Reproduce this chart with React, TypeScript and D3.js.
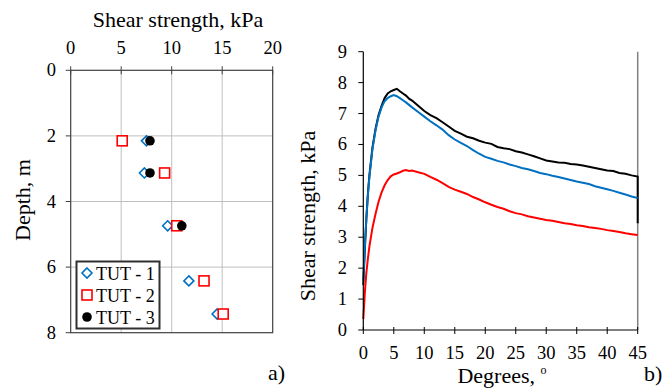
import React from "react";
import * as d3 from "d3";

// a) field vane profile
const seriesNames = ["TUT - 1", "TUT - 2", "TUT - 3"];
const depthTut1 = [2.15, 3.13, 4.74, 6.42, 7.43];
const strengthTut1 = [7.5, 7.3, 9.6, 11.7, 14.5];
const depthTut2 = [2.15, 3.13, 4.74, 6.42, 7.43];
const strengthTut2 = [5.1, 9.3, 10.5, 13.2, 15.1];
const depthTut3 = [2.15, 3.13, 4.74];
const strengthTut3 = [7.85, 7.85, 11.0];
const strengthTicks = [0, 5, 10, 15, 20];
const depthTicks = [0, 2, 4, 6, 8];

// b) shear strength vs rotation
const degrees = [
  0, 0.25, 0.5, 0.75, 1, 1.5, 2, 2.5, 3, 3.5, 4, 4.5, 5, 5.5, 6, 6.5, 7, 7.5, 8,
  9, 10, 11, 12, 13, 14, 15, 16, 17, 18, 19, 20, 21, 22, 23, 24, 25, 26, 27, 28,
  29, 30, 31, 32, 33, 34, 35, 36, 37, 38, 39, 40, 41, 42, 43, 44, 45,
];
const curveTut1 = [
  1.6, 2.7, 3.6, 4.35, 4.95, 5.85, 6.45, 6.9, 7.2, 7.4, 7.5, 7.56, 7.6, 7.56,
  7.5, 7.43, 7.36, 7.28, 7.2, 7.05, 6.9, 6.75, 6.62, 6.48, 6.3, 6.16, 6.05, 5.95,
  5.82, 5.7, 5.6, 5.54, 5.47, 5.42, 5.35, 5.3, 5.24, 5.2, 5.14, 5.08, 5.04, 4.99,
  4.95, 4.9, 4.85, 4.8, 4.76, 4.72, 4.65, 4.6, 4.55, 4.5, 4.44, 4.38, 4.32, 4.27,
];
const curveTut2 = [
  0.35, 1.2, 1.85, 2.3, 2.7, 3.3, 3.75, 4.15, 4.45, 4.68, 4.85, 4.97, 5.03, 5.06,
  5.1, 5.15, 5.17, 5.14, 5.16, 5.1, 5.05, 4.95, 4.86, 4.75, 4.63, 4.54, 4.47, 4.4,
  4.3, 4.22, 4.13, 4.05, 3.98, 3.92, 3.84, 3.78, 3.74, 3.68, 3.64, 3.6, 3.56, 3.53,
  3.49, 3.45, 3.43, 3.39, 3.36, 3.32, 3.3, 3.27, 3.23, 3.2, 3.17, 3.13, 3.1, 3.07,
];
const curveTut3 = [
  1.45, 2.6, 3.6, 4.4, 5.0, 5.9, 6.5, 6.95, 7.25, 7.5, 7.65, 7.72, 7.76, 7.8,
  7.72, 7.65, 7.58, 7.48, 7.42, 7.25, 7.08, 6.95, 6.85, 6.72, 6.58, 6.44, 6.35,
  6.25, 6.2, 6.12, 6.06, 6.02, 5.92, 5.88, 5.85, 5.78, 5.74, 5.68, 5.62, 5.55,
  5.48, 5.45, 5.42, 5.41, 5.37, 5.35, 5.32, 5.28, 5.24, 5.2, 5.16, 5.14, 5.08,
  5.05, 5.0, 4.96,
];
const tut3EndValue = 3.45;
const degreeTicks = [0, 5, 10, 15, 20, 25, 30, 35, 40, 45];
const shearTicks = [0, 1, 2, 3, 4, 5, 6, 7, 8, 9];

const FONT = "'Liberation Serif', 'Times New Roman', serif";
const BLUE = "#0070C0";
const RED = "#FF0000";

function Diamond({ x, y }: { x: number; y: number }) {
  const r = 5;
  return (
    <path
      d={`M${x},${y - r}L${x + r},${y}L${x},${y + r}L${x - r},${y}Z`}
      fill="white"
      stroke={BLUE}
      strokeWidth={1.6}
    />
  );
}

function Square({ x, y }: { x: number; y: number }) {
  const s = 10;
  return (
    <rect x={x - s / 2} y={y - s / 2} width={s} height={s} fill="white" stroke={RED} strokeWidth={1.6} />
  );
}

function Dot({ x, y }: { x: number; y: number }) {
  return <circle cx={x} cy={y} r={4.8} fill="black" />;
}

function ProfileChart() {
  const x = d3.scaleLinear().domain([0, 20]).range([70.7, 272.7]);
  const y = d3.scaleLinear().domain([0, 8]).range([70.3, 332.7]);
  const [x0, x1] = x.range();
  const [y0, y1] = y.range();
  const legendRows = [
    { name: seriesNames[0], Mark: Diamond },
    { name: seriesNames[1], Mark: Square },
    { name: seriesNames[2], Mark: Dot },
  ];
  return (
    <g fontFamily={FONT}>
      {strengthTicks.slice(1, -1).map((t) => (
        <line key={"gx" + t} x1={x(t)} x2={x(t)} y1={y0} y2={y1} stroke="#BFBFBF" />
      ))}
      {depthTicks.slice(1, -1).map((t) => (
        <line key={"gy" + t} x1={x0} x2={x1} y1={y(t)} y2={y(t)} stroke="#BFBFBF" />
      ))}
      <rect x={x0} y={y0} width={x1 - x0} height={y1 - y0} fill="none" stroke="#404040" strokeWidth={1.2} />
      {strengthTicks.map((t) => (
        <g key={"tx" + t}>
          <line x1={x(t)} x2={x(t)} y1={y0 - 4} y2={y0 + 4} stroke="#404040" />
          <text x={x(t)} y={53.5} textAnchor="middle" fontSize={18.5}>
            {t}
          </text>
        </g>
      ))}
      {depthTicks.map((t) => (
        <g key={"ty" + t}>
          <line x1={x0 - 5} x2={x0} y1={y(t)} y2={y(t)} stroke="#404040" />
          <text x={56} y={y(t) + 6} textAnchor="end" fontSize={18.5}>
            {t}
          </text>
        </g>
      ))}
      <text x={178} y={27} textAnchor="middle" fontSize={22}>
        Shear strength, kPa
      </text>
      <text transform="translate(30,200) rotate(-90)" textAnchor="middle" fontSize={22}>
        Depth, m
      </text>
      {depthTut1.map((d, i) => (
        <Diamond key={"a" + i} x={x(strengthTut1[i])} y={y(d)} />
      ))}
      {depthTut2.map((d, i) => (
        <Square key={"b" + i} x={x(strengthTut2[i])} y={y(d)} />
      ))}
      {depthTut3.map((d, i) => (
        <Dot key={"c" + i} x={x(strengthTut3[i])} y={y(d)} />
      ))}
      <rect x={76.5} y={261.5} width={83} height={67} fill="white" stroke="#303030" strokeWidth={2} />
      {legendRows.map((r, i) => (
        <g key={r.name}>
          <r.Mark x={87} y={273 + i * 22} />
          <text x={96} y={279.5 + i * 22} fontSize={18}>
            {r.name}
          </text>
        </g>
      ))}
      <text x={268} y={380} fontSize={22}>
        a)
      </text>
    </g>
  );
}

function RotationChart() {
  const x = d3.scaleLinear().domain([0, 45]).range([363.3, 637.7]);
  const y = d3.scaleLinear().domain([0, 9]).range([330, 51.7]);
  const [x0, x1] = x.range();
  const [y0, y1] = y.range();
  const line = d3
    .line<number>()
    .x((_, i) => x(degrees[i]))
    .y((v) => y(v));
  const tut3Path = line(curveTut3) + `L${x(45)},${y(tut3EndValue)}`;
  return (
    <g fontFamily={FONT}>
      <line x1={x1} x2={x1} y1={y1} y2={y0} stroke="#808080" strokeWidth={1.5} />
      <path d={tut3Path} fill="none" stroke="black" strokeWidth={2} />
      <path d={line(curveTut1) ?? ""} fill="none" stroke={BLUE} strokeWidth={2} />
      <path d={line(curveTut2) ?? ""} fill="none" stroke={RED} strokeWidth={2} />
      <line x1={x0} x2={x0} y1={y1} y2={y0} stroke="black" strokeWidth={1.2} />
      <line x1={x0} x2={x1} y1={y0} y2={y0} stroke="black" strokeWidth={1.2} />
      {shearTicks.map((t) => (
        <g key={"sy" + t}>
          <line x1={x0 - 5} x2={x0} y1={y(t)} y2={y(t)} stroke="black" />
          <text x={347} y={y(t) + 6} textAnchor="end" fontSize={18.5}>
            {t}
          </text>
        </g>
      ))}
      {degreeTicks.map((t) => (
        <g key={"dx" + t}>
          <line x1={x(t)} x2={x(t)} y1={y0 - 3} y2={y0 + 4} stroke="black" />
          <text x={x(t)} y={358.5} textAnchor="middle" fontSize={18.5}>
            {t}
          </text>
        </g>
      ))}
      <text transform="translate(315,216) rotate(-90)" textAnchor="middle" fontSize={22}>
        Shear strength, kPa
      </text>
      <text x={502} y={383} textAnchor="middle" fontSize={22}>
        Degrees,{" "}
        <tspan fontSize={12} dy={-9}>
          o
        </tspan>
      </text>
      <text x={644} y={381} fontSize={22}>
        b)
      </text>
    </g>
  );
}

export default function App() {
  return (
    <svg
      width={665}
      height={388}
      style={{ position: "absolute", left: 0, top: 0, background: "white" }}
    >
      <rect width={665} height={388} fill="white" />
      <ProfileChart />
      <RotationChart />
    </svg>
  );
}
